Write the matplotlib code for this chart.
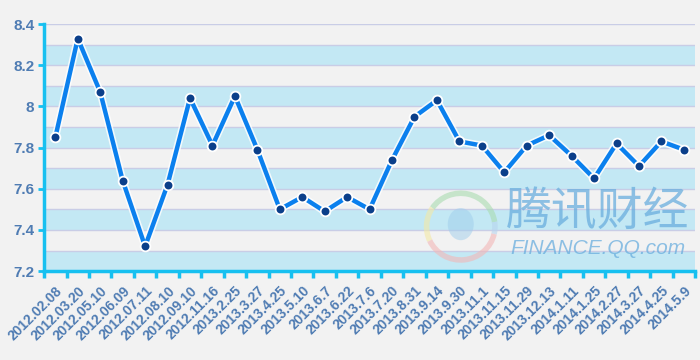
import matplotlib.pyplot as plt
import matplotlib.patheffects as pe
from matplotlib.patches import Arc, Ellipse
import numpy as np

dates = ['2012.02.08', '2012.03.20', '2012.05.10', '2012.06.09', '2012.07.11',
         '2012.08.10', '2012.09.10', '2012.11.16', '2013.2.25', '2013.3.27',
         '2013.4.25', '2013.5.10', '2013.6.7', '2013.6.22', '2013.7.6',
         '2013.7.20', '2013.8.31', '2013.9.14', '2013.9.30', '2013.11.1',
         '2013.11.15', '2013.11.29', '2013.12.13', '2014.1.11', '2014.1.25',
         '2014.2.27', '2014.3.27', '2014.4.25', '2014.5.9']
values = [7.85, 8.33, 8.07, 7.64, 7.32, 7.62, 8.04, 7.81, 8.05, 7.79,
          7.50, 7.56, 7.49, 7.56, 7.50, 7.74, 7.95, 8.03, 7.83, 7.81,
          7.68, 7.81, 7.86, 7.76, 7.65, 7.82, 7.71, 7.83, 7.79]
y_ticks = [7.2, 7.4, 7.6, 7.8, 8.0, 8.2, 8.4]
y_tick_labels = ['7.2', '7.4', '7.6', '7.8', '8', '8.2', '8.4']

bg = '#f2f2f2'
band = '#c3e8f4'
axis_c = '#17c0f0'
text_c = '#4f7cb3'
line_c = '#0b80ee'
dot_c = '#0b3f8a'
font = 'Liberation Sans'

fig = plt.figure(figsize=(7, 3.6), dpi=100, facecolor=bg)
ax = fig.add_axes([0.063, 0.247, 0.93, 0.686])
ax.set_facecolor(bg)

x = np.arange(len(dates))
ax.set_xlim(-0.5, len(dates) - 0.5)
ax.set_ylim(7.2, 8.4)

# alternating stripes + thin grid
for lo in np.arange(7.2, 8.4, 0.2):
    ax.axhspan(lo, lo + 0.1, color=band, zorder=0, lw=0)
for g in np.arange(7.3, 8.41, 0.1):
    ax.axhline(g, color='#c9cde6', lw=1, zorder=1)

# watermark
ax.text(0.85, 0.24, '腾讯财经', transform=ax.transAxes, ha='center', va='center',
        fontsize=33, style='italic', color='#6aaede', alpha=0.75,
        family=['Noto Sans CJK SC', 'DejaVu Sans'], zorder=1)
ax.text(0.85, 0.09, 'FINANCE.QQ.com', transform=ax.transAxes, ha='center', va='center',
        fontsize=15, style='italic', color='#6aaede', alpha=0.75, family=font, zorder=1)
cx, cy = 0.64, 0.18
for t1, t2, c in [(20, 120, '#a9dcb0'), (120, 230, '#f2e9a6'), (230, 330, '#f3b7b7'),
                  (330, 380, '#b7d4ee')]:
    ax.add_patch(Arc((cx, cy), 0.105, 0.27, theta1=t1, theta2=t2, transform=ax.transAxes,
                     color=c, lw=4, alpha=0.6, zorder=1))
ax.add_patch(Ellipse((cx, cy + 0.01), 0.04, 0.13, transform=ax.transAxes,
                     color='#9fcdec', alpha=0.5, lw=0, zorder=1))

ax.plot(x, values, color=line_c, lw=3.2, zorder=3,
        path_effects=[pe.Stroke(linewidth=5.5, foreground='white', alpha=0.8), pe.Normal()])
ax.plot(x, values, 'o', ms=7, color=dot_c, mec='white', mew=1.3, zorder=4)

for s in ['top', 'right']:
    ax.spines[s].set_visible(False)
for s in ['left', 'bottom']:
    ax.spines[s].set_color(axis_c)
    ax.spines[s].set_linewidth(2.5)

ax.set_yticks(y_ticks)
ax.set_yticklabels(y_tick_labels)
ax.set_xticks(np.arange(len(dates) + 1) - 0.5, minor=False)
ax.set_xticklabels([])
ax.set_xticks(x, minor=True)
ax.set_xticklabels(dates, minor=True, rotation=45, ha='right', va='top',
                   rotation_mode='anchor')
ax.tick_params(axis='x', which='major', direction='out', length=5, width=2.5, color=axis_c)
ax.tick_params(axis='x', which='minor', length=0, pad=9)
ax.tick_params(axis='y', direction='out', length=4, width=2, color=axis_c, pad=3)
for lab in ax.get_xticklabels(minor=True) + ax.get_yticklabels():
    lab.set_color(text_c)
    lab.set_fontweight('bold')
    lab.set_family(font)
for lab in ax.get_xticklabels(minor=True):
    lab.set_fontsize(10)
for lab in ax.get_yticklabels():
    lab.set_fontsize(11)

fig.savefig('out.png', dpi=100, facecolor=bg)
